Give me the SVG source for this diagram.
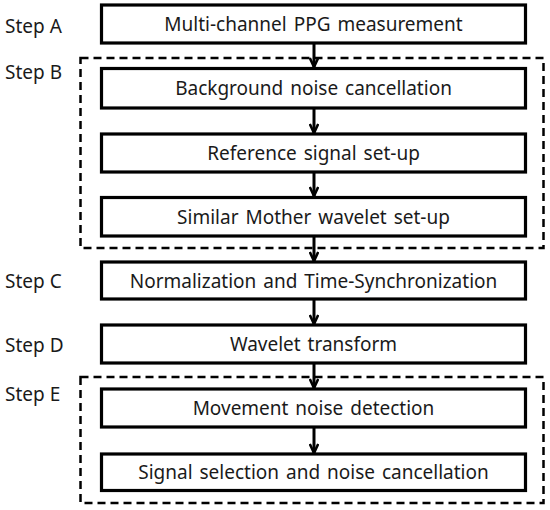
<svg xmlns="http://www.w3.org/2000/svg" width="550" height="510" viewBox="0 0 550 510">
<defs>
<style>
.box{fill:#fff;stroke:#000;stroke-width:3.2}
.grp{fill:none;stroke:#000;stroke-width:2.5;stroke-dasharray:8 5}
.t{font-family:"Noto Sans","Open Sans",sans-serif;font-size:19px;fill:#1a1a1a;text-anchor:middle;word-spacing:2px}
.s{font-family:"Noto Sans","Open Sans",sans-serif;font-size:19px;fill:#1a1a1a}
.c{stroke:#000;stroke-width:3;fill:none}
</style>
<marker id="ah" viewBox="0 0 12 10" refX="10" refY="5" markerWidth="12" markerHeight="10" markerUnits="userSpaceOnUse" orient="auto">
<path d="M1,0.8 L10,5 L1,9.2" fill="none" stroke="#000" stroke-width="2.6"/>
</marker>
</defs>
<rect fill="#fff" width="550" height="510"/>
<g id="groupB"><rect class="grp" x="80.5" y="58" width="463" height="190"/><text class="s" x="5" y="79">Step B</text></g>
<g id="groupE"><rect class="grp" x="80.5" y="377" width="463" height="126"/><text class="s" x="5" y="401">Step E</text></g>
<g id="labelA"><text class="s" x="5" y="33">Step A</text></g>
<g id="labelC"><text class="s" x="5" y="288">Step C</text></g>
<g id="labelD"><text class="s" x="5" y="352">Step D</text></g>
<g id="connectors">
<line class="c" x1="314" y1="43" x2="314" y2="67" marker-end="url(#ah)"/>
<line class="c" x1="314" y1="108" x2="314" y2="133" marker-end="url(#ah)"/>
<line class="c" x1="314" y1="172" x2="314" y2="196" marker-end="url(#ah)"/>
<line class="c" x1="314" y1="236" x2="314" y2="261" marker-end="url(#ah)"/>
<line class="c" x1="314" y1="299" x2="314" y2="324" marker-end="url(#ah)"/>
<line class="c" x1="314" y1="363" x2="314" y2="388" marker-end="url(#ah)"/>
<line class="c" x1="314" y1="427" x2="314" y2="453" marker-end="url(#ah)"/>
</g>
<g id="nodeA"><rect class="box" x="101.5" y="5" width="424" height="38"/><text class="t" x="313.5" y="31">Multi-channel  PPG measurement</text></g>
<g id="nodeB1"><rect class="box" x="101.5" y="68.5" width="424" height="39.5"/><text class="t" x="313.5" y="95">Background noise cancellation</text></g>
<g id="nodeB2"><rect class="box" x="101.5" y="134" width="424" height="38"/><text class="t" x="313.5" y="160">Reference signal set-up</text></g>
<g id="nodeB3"><rect class="box" x="101.5" y="197.5" width="424" height="38.5"/><text class="t" x="313.5" y="223.5">Similar Mother wavelet set-up</text></g>
<g id="nodeC"><rect class="box" x="101.5" y="262" width="424" height="37"/><text class="t" x="313.5" y="287.5">Normalization and Time-Synchronization</text></g>
<g id="nodeD"><rect class="box" x="101.5" y="325" width="424" height="38"/><text class="t" x="313.5" y="351">Wavelet transform</text></g>
<g id="nodeE1"><rect class="box" x="101.5" y="389" width="424" height="38"/><text class="t" x="313.5" y="415">Movement noise detection</text></g>
<g id="nodeE2"><rect class="box" x="101.5" y="454" width="424" height="36.5"/><text class="t" x="313.5" y="479">Signal selection and noise cancellation</text></g>
</svg>
